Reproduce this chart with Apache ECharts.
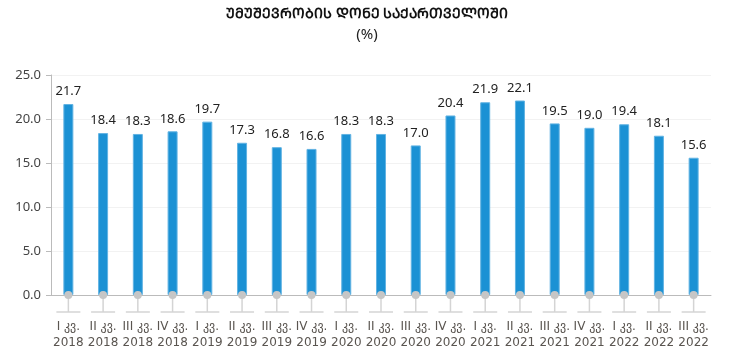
<!DOCTYPE html>
<html>
<head>
<meta charset="utf-8">
<script src="https://cdn.jsdelivr.net/npm/echarts@6/dist/echarts.min.js"></script>
<style>
  html, body { margin: 0; padding: 0; background: #fff; }
  #chart { width: 734px; height: 354px; }
</style>
</head>
<body>
<div id="chart"></div>
<script>
// quarters and years for the x axis
var quarters = ['I', 'II', 'III', 'IV', 'I', 'II', 'III', 'IV', 'I', 'II', 'III', 'IV', 'I', 'II', 'III', 'IV', 'I', 'II', 'III'];
var years = ['2018', '2018', '2018', '2018', '2019', '2019', '2019', '2019', '2020', '2020', '2020', '2020', '2021', '2021', '2021', '2021', '2022', '2022', '2022'];
// unemployment rate, %
var rates = [21.7, 18.4, 18.3, 18.6, 19.7, 17.3, 16.8, 16.6, 18.3, 18.3, 17.0, 20.4, 21.9, 22.1, 19.5, 19.0, 19.4, 18.1, 15.6];
var yTicks = [0, 5, 25];

var categories = quarters.map(function (q, i) { return q + ' კვ.\n' + years[i]; });
var FONT = '"Noto Sans", "DejaVu Sans", sans-serif';

var chart = echarts.init(document.getElementById('chart'));

// gray pin under every bar: dot at zero, stem and a short foot
function pin(params, api) {
    var p = api.coord([api.value(0), 0]);
    var st = { stroke: '#d4d4d4', lineWidth: 1.5 };
    return {
        type: 'group',
        children: [
            { type: 'line', shape: { x1: p[0], y1: p[1], x2: p[0], y2: p[1] + 17 }, style: st },
            { type: 'line', shape: { x1: p[0] - 12, y1: p[1] + 17, x2: p[0] + 12, y2: p[1] + 17 }, style: st },
            { type: 'circle', shape: { cx: p[0], cy: p[1], r: 4 }, style: { fill: '#c6c6c6' } }
        ]
    };
}

chart.setOption({
    animation: false,
    title: {
        text: 'ᲣᲛᲣᲨᲔᲕᲠᲝᲑᲘᲡ ᲓᲝᲜᲔ ᲡᲐᲥᲐᲠᲗᲕᲔᲚᲝᲨᲘ',
        subtext: '(%)',
        left: 'center',
        top: 2,
        itemGap: 6,
        textStyle: { fontFamily: FONT, fontSize: 14, fontWeight: 'bold', color: '#111' },
        subtextStyle: { fontFamily: FONT, fontSize: 15, color: '#222' }
    },
    grid: { left: 51, right: 23, top: 75, bottom: 59 },
    xAxis: {
        type: 'category',
        data: categories,
        axisLine: { lineStyle: { color: '#bbb' } },
        axisTick: { show: false },
        axisLabel: {
            interval: 0,
            margin: 24,
            fontFamily: '"DejaVu Sans", sans-serif',
            fontSize: 12,
            lineHeight: 16,
            color: '#5a5550'
        }
    },
    yAxis: {
        type: 'value',
        min: yTicks[0],
        max: yTicks[2],
        interval: yTicks[1],
        axisLine: { show: true, lineStyle: { color: '#bbb' } },
        axisTick: { show: true, length: 5, lineStyle: { color: '#bbb' } },
        splitLine: { lineStyle: { color: '#f2f2f2' } },
        axisLabel: {
            margin: 10,
            fontFamily: FONT,
            fontSize: 13,
            color: '#444',
            formatter: function (v) { return v.toFixed(1); }
        }
    },
    series: [
        {
            type: 'bar',
            data: rates,
            barWidth: 10,
            itemStyle: { color: '#1b91d4', borderColor: '#62b3e3', borderWidth: 1 },
            label: {
                show: true,
                position: 'top',
                distance: 6,
                fontFamily: FONT,
                fontSize: 13,
                color: '#222',
                formatter: function (p) { return p.value.toFixed(1); }
            }
        },
        {
            type: 'custom',
            renderItem: pin,
            data: rates.map(function (v, i) { return [i, 0]; }),
            z: 5,
            silent: true
        }
    ]
});
</script>
</body>
</html>
